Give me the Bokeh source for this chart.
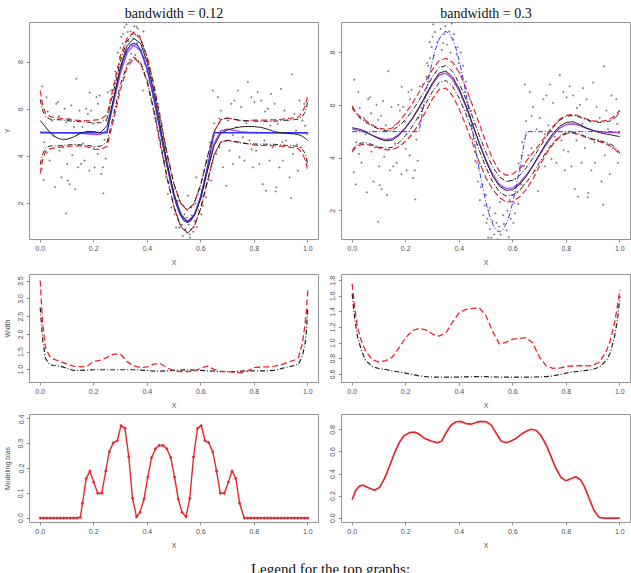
import numpy as np
from bokeh.plotting import figure
from bokeh.layouts import column, row
from bokeh.models import Range1d, FixedTicker
from bokeh.core.properties import value
from bokeh.embed import file_html
from bokeh.resources import INLINE

# ---------------------------------------------------------------- data
# common evaluation grid of the smoothed curves
GRID = [0.0, 0.005, 0.01, 0.02, 0.035,
        0.05, 0.075, 0.1, 0.125, 0.15, 0.175, 0.2, 0.225, 0.25, 0.275,
        0.3, 0.325, 0.35, 0.375, 0.4, 0.425, 0.45, 0.475, 0.5, 0.525,
        0.55, 0.575, 0.6, 0.625, 0.65, 0.675, 0.7, 0.725, 0.75, 0.775,
        0.8, 0.825, 0.85, 0.875, 0.9, 0.925, 0.95,
        0.965, 0.98, 0.99, 0.995, 1.0]

# true regression function
TRUE_X = [0.0, 0.25, 0.2625, 0.275, 0.2875, 0.3, 0.3125, 0.325, 0.3375, 0.35,
          0.3625, 0.375, 0.3875, 0.4, 0.4125, 0.425, 0.4375, 0.45, 0.4625, 0.475,
          0.4875, 0.5, 0.5125, 0.525, 0.5375, 0.55, 0.5625, 0.575, 0.5875, 0.6,
          0.6125, 0.625, 0.6375, 0.65, 1.0]
TRUE_Y = [5.0, 5.00, 5.74, 6.45, 7.11, 7.69, 8.16, 8.51, 8.73, 8.80,
          8.73, 8.51, 8.16, 7.69, 7.11, 6.45, 5.74, 5.00, 4.26, 3.55,
          2.89, 2.31, 1.84, 1.49, 1.27, 1.20, 1.27, 1.49, 1.84, 2.31,
          2.89, 3.55, 4.26, 5.00, 5.0]

# bandwidth = 0.12
MEAN_012 = [5.03, 5.03, 5.02, 5.02, 5.01,
            5.00, 5.00, 5.00, 4.99, 4.98, 4.96, 4.92, 4.93, 5.10, 6.30,
            7.55, 8.40, 8.72, 8.48, 7.68, 6.45, 5.00, 3.55, 2.33, 1.52,
            1.23, 1.50, 2.30, 3.45, 4.55, 5.08, 5.15, 5.10, 5.05, 5.02,
            5.01, 5.00, 5.00, 5.00, 5.00, 5.00, 5.00,
            5.00, 5.00, 5.00, 5.00, 5.00]
FIT_012 = [5.52, 5.45, 5.38, 5.24, 5.03,
           4.86, 4.73, 4.72, 4.82, 4.97, 5.06, 5.05, 5.00, 5.30, 6.45,
           7.80, 8.70, 9.00, 8.80, 7.98, 6.72, 5.20, 3.70, 2.42, 1.56,
           1.22, 1.45, 2.20, 3.38, 4.45, 4.98, 5.12, 5.20, 5.25, 5.27,
           5.26, 5.23, 5.15, 5.05, 5.00, 4.97, 4.95,
           4.92, 4.85, 4.77, 4.72, 4.68]
WIDTH_PW_012 = [2.76, 2.25, 1.80, 1.32, 1.15,
                1.12, 1.10, 1.04, 0.98, 0.98, 0.99, 1.00, 1.00, 1.00, 1.00,
                1.00, 1.00, 1.00, 0.99, 0.98, 0.96, 0.96, 0.97, 0.98, 0.99,
                1.00, 0.99, 0.98, 0.97, 0.96, 0.95, 0.95, 0.95, 0.96, 0.97,
                0.97, 0.97, 0.97, 0.98, 1.03, 1.08, 1.12,
                1.16, 1.40, 1.75, 2.10, 2.76]
WIDTH_SIM_012 = [3.52, 2.85, 2.25, 1.62, 1.38,
                 1.30, 1.23, 1.16, 1.10, 1.08, 1.10, 1.23, 1.27, 1.35, 1.44,
                 1.44, 1.23, 1.11, 1.06, 1.08, 1.16, 1.17, 1.05, 0.97, 0.95,
                 0.95, 0.96, 1.04, 1.10, 1.01, 0.95, 0.95, 0.93, 0.91, 0.97,
                 1.06, 1.08, 1.08, 1.10, 1.14, 1.21, 1.27,
                 1.34, 1.75, 2.30, 2.70, 3.24]

# bandwidth = 0.3
MEAN_03 = [5.10, 5.09, 5.08, 5.06, 5.02,
           4.97, 4.86, 4.76, 4.70, 4.73, 4.90, 5.17, 5.50, 5.90, 6.35,
           6.80, 7.15, 7.22, 7.00, 6.55, 5.95, 5.27, 4.57, 3.92, 3.38,
           3.00, 2.84, 2.87, 3.05, 3.34, 3.70, 4.11, 4.51, 4.86, 5.13,
           5.27, 5.30, 5.23, 5.13, 5.05, 5.00, 4.98,
           4.97, 4.97, 4.97, 4.97, 4.97]
FIT_03 = [5.15, 5.14, 5.13, 5.11, 5.07,
          5.00, 4.86, 4.73, 4.65, 4.68, 4.86, 5.15, 5.50, 5.92, 6.38,
          6.85, 7.22, 7.30, 7.08, 6.62, 6.00, 5.28, 4.55, 3.88, 3.32,
          2.93, 2.77, 2.80, 2.99, 3.30, 3.70, 4.14, 4.57, 4.93, 5.20,
          5.35, 5.38, 5.27, 5.14, 5.04, 4.96, 4.91,
          4.88, 4.85, 4.83, 4.82, 4.82]
WIDTH_PW_03 = [1.63, 1.45, 1.30, 1.08, 0.90,
               0.78, 0.70, 0.675, 0.662, 0.645, 0.63, 0.615, 0.597, 0.58, 0.57,
               0.566, 0.565, 0.565, 0.565, 0.566, 0.568, 0.57, 0.57, 0.57, 0.568,
               0.566, 0.565, 0.565, 0.565, 0.565, 0.566, 0.568, 0.572, 0.58, 0.598,
               0.615, 0.632, 0.642, 0.65, 0.665, 0.695, 0.78,
               0.88, 1.08, 1.27, 1.40, 1.60]
WIDTH_SIM_03 = [1.757, 1.60, 1.43, 1.20, 1.02,
                0.90, 0.79, 0.756, 0.775, 0.82, 0.94, 1.07, 1.16, 1.187, 1.17,
                1.115, 1.09, 1.13, 1.27, 1.39, 1.43, 1.445, 1.45, 1.35, 1.15,
                0.99, 1.01, 1.05, 1.06, 1.07, 1.00, 0.82, 0.71, 0.678, 0.68,
                0.70, 0.707, 0.712, 0.708, 0.715, 0.76, 0.90,
                1.04, 1.25, 1.45, 1.57, 1.68]

# modelling bias
BIAS_X_012 = [0.0, 0.0125, 0.025, 0.0375, 0.05, 0.0625, 0.075, 0.0875, 0.1, 0.1125,
              0.125, 0.1375, 0.15, 0.158, 0.172, 0.186, 0.2, 0.215, 0.23, 0.245,
              0.258, 0.273, 0.288, 0.302, 0.317, 0.331, 0.345, 0.36, 0.373, 0.388,
              0.402, 0.416, 0.431, 0.445, 0.459, 0.473, 0.488, 0.502, 0.516, 0.53,
              0.545, 0.559, 0.573, 0.588, 0.602, 0.616, 0.63, 0.645, 0.659, 0.673,
              0.688, 0.703, 0.717, 0.731, 0.745, 0.7625, 0.775, 0.7875, 0.8, 0.8125,
              0.825, 0.8375, 0.85, 0.8625, 0.875, 0.8875, 0.9, 0.9125, 0.925, 0.9375,
              0.95, 0.9625, 0.975, 0.9875, 1.0]
BIAS_Y_012 = [0.0, 0.0, 0.0, 0.0, 0.0, 0.0, 0.0, 0.0, 0.0, 0.0,
              0.0, 0.0, 0.003, 0.06, 0.16, 0.19, 0.145, 0.10, 0.10, 0.19,
              0.267, 0.304, 0.312, 0.373, 0.362, 0.247, 0.08, 0.005, 0.023, 0.077,
              0.165, 0.244, 0.28, 0.293, 0.293, 0.28, 0.244, 0.165, 0.077, 0.023,
              0.005, 0.08, 0.247, 0.362, 0.373, 0.312, 0.304, 0.267, 0.19, 0.10,
              0.10, 0.145, 0.19, 0.16, 0.06, 0.0, 0.0, 0.0, 0.0, 0.0,
              0.0, 0.0, 0.0, 0.0, 0.0, 0.0, 0.0, 0.0, 0.0, 0.0,
              0.0, 0.0, 0.0, 0.0, 0.0]
BIAS_X_03 = [0.0, 0.012, 0.027, 0.04, 0.058, 0.083, 0.102, 0.121, 0.139, 0.158,
             0.177, 0.195, 0.214, 0.233, 0.251, 0.27, 0.295, 0.32, 0.335, 0.351,
             0.369, 0.388, 0.407, 0.425, 0.444, 0.463, 0.481, 0.5, 0.519, 0.537,
             0.556, 0.575, 0.593, 0.612, 0.631, 0.649, 0.668, 0.687, 0.705, 0.724,
             0.743, 0.761, 0.78, 0.799, 0.817, 0.836, 0.854, 0.867, 0.886, 0.904,
             0.923, 0.942, 0.96, 0.98, 1.0]
BIAS_Y_03 = [0.166, 0.246, 0.29, 0.30, 0.277, 0.252, 0.277, 0.36, 0.468, 0.59,
             0.69, 0.75, 0.775, 0.78, 0.76, 0.723, 0.70, 0.683, 0.70, 0.775,
             0.843, 0.874, 0.877, 0.858, 0.852, 0.868, 0.877, 0.874, 0.846, 0.775,
             0.70, 0.683, 0.70, 0.723, 0.76, 0.785, 0.806, 0.797, 0.75, 0.668,
             0.56, 0.452, 0.37, 0.338, 0.357, 0.375, 0.345, 0.29, 0.175, 0.068,
             0.006, 0.0, 0.0, 0.0, 0.0]

# observations (x, y)
POINTS = [
    (0.006, 3.46), (0.008, 6.97), (0.013, 3.00), (0.015, 4.60), (0.023, 6.51),
    (0.025, 4.15), (0.028, 5.90), (0.035, 3.82), (0.044, 5.52), (0.050, 4.90),
    (0.055, 2.70), (0.060, 6.23), (0.066, 6.30), (0.070, 5.70), (0.072, 4.24),
    (0.079, 3.11), (0.085, 4.40), (0.091, 6.02), (0.097, 5.45), (0.097, 1.58),
    (0.101, 3.68), (0.103, 2.97), (0.108, 5.60), (0.110, 2.82), (0.116, 6.16),
    (0.120, 4.05), (0.126, 5.24), (0.130, 2.60), (0.135, 7.29), (0.141, 3.53),
    (0.147, 5.94), (0.153, 3.68), (0.158, 5.25), (0.160, 4.55), (0.166, 3.82),
    (0.172, 6.02), (0.178, 5.80), (0.184, 3.39), (0.185, 6.70), (0.190, 5.94),
    (0.197, 5.38), (0.200, 4.35), (0.203, 3.53), (0.210, 6.51), (0.215, 4.10),
    (0.216, 6.23), (0.222, 6.58), (0.228, 3.25), (0.234, 3.53), (0.236, 2.43),
    (0.240, 4.70), (0.245, 3.90), (0.247, 5.52), (0.253, 6.72),
    (0.260, 5.90), (0.265, 6.80), (0.272, 6.30), (0.278, 7.08), (0.280, 7.60),
    (0.284, 7.50), (0.285, 6.90), (0.290, 7.79), (0.290, 8.40), (0.295, 7.30),
    (0.297, 8.21), (0.300, 8.60), (0.303, 9.07), (0.305, 7.90), (0.309, 8.78),
    (0.310, 9.20), (0.315, 9.49), (0.318, 8.40), (0.322, 9.60), (0.327, 9.28),
    (0.330, 8.90), (0.335, 8.10), (0.338, 9.30), (0.340, 8.36), (0.343, 8.70),
    (0.348, 9.00), (0.352, 9.52), (0.355, 8.30), (0.360, 9.50), (0.362, 8.80),
    (0.365, 9.42), (0.368, 8.00), (0.372, 9.10), (0.377, 8.50), (0.380, 8.70),
    (0.384, 6.79), (0.386, 9.30), (0.390, 7.93), (0.393, 8.20), (0.398, 7.60),
    (0.402, 7.22), (0.405, 8.00), (0.410, 7.10), (0.415, 7.50), (0.421, 6.51),
    (0.425, 6.90), (0.427, 5.80), (0.430, 6.10), (0.435, 5.60), (0.440, 6.23),
    (0.445, 5.80), (0.446, 5.09), (0.450, 4.70), (0.455, 5.30), (0.458, 4.24),
    (0.460, 3.90), (0.465, 3.82), (0.468, 4.50), (0.470, 3.11), (0.473, 3.60),
    (0.477, 2.40), (0.480, 2.90), (0.483, 3.68), (0.486, 3.00), (0.490, 1.83),
    (0.495, 2.20), (0.500, 2.60), (0.502, 1.54), (0.505, 1.70), (0.508, 0.98),
    (0.510, 2.00), (0.514, 2.11), (0.515, 1.30), (0.520, 0.98), (0.525, 1.60),
    (0.530, 1.10), (0.533, 0.62), (0.535, 1.90), (0.539, 1.54), (0.543, 0.90),
    (0.548, 1.40), (0.552, 2.33), (0.555, 1.10), (0.558, 0.69), (0.560, 0.55),
    (0.564, 1.83), (0.567, 1.50), (0.572, 0.80), (0.577, 1.26), (0.580, 2.00),
    (0.583, 3.11), (0.585, 1.00), (0.589, 2.40), (0.592, 1.70), (0.597, 2.60),
    (0.602, 1.54), (0.605, 2.30), (0.608, 1.90), (0.610, 3.20), (0.614, 2.97),
    (0.617, 2.70), (0.620, 2.26), (0.622, 3.80), (0.627, 3.53), (0.630, 3.00),
    (0.633, 4.10), (0.635, 4.60), (0.639, 2.97), (0.642, 3.70), (0.645, 6.79),
    (0.649, 4.88), (0.650, 5.40),
    (0.658, 4.10), (0.664, 6.51), (0.670, 4.38), (0.670, 5.60), (0.676, 5.94),
    (0.683, 3.53), (0.689, 5.09), (0.695, 2.75), (0.701, 5.52), (0.707, 4.24),
    (0.714, 6.23), (0.720, 3.68), (0.720, 4.90), (0.726, 6.37), (0.733, 5.24),
    (0.739, 6.79), (0.745, 3.96), (0.751, 6.09), (0.757, 4.81), (0.763, 3.82),
    (0.770, 5.40), (0.776, 7.15), (0.782, 4.67), (0.789, 6.51), (0.790, 4.30),
    (0.795, 3.53), (0.801, 6.30), (0.807, 4.24), (0.810, 5.00), (0.813, 6.72),
    (0.819, 3.68), (0.826, 6.37), (0.832, 2.82), (0.838, 4.67), (0.840, 5.90),
    (0.844, 2.54), (0.851, 6.02), (0.857, 3.82), (0.860, 5.30), (0.863, 6.65),
    (0.869, 4.38), (0.876, 6.23), (0.880, 2.51), (0.882, 2.68), (0.888, 5.38),
    (0.894, 3.53), (0.900, 6.86), (0.905, 4.60), (0.907, 3.82), (0.913, 5.94),
    (0.919, 4.67), (0.925, 5.52), (0.932, 3.11), (0.938, 2.23), (0.941, 7.48),
    (0.944, 4.10), (0.950, 5.80), (0.956, 5.09), (0.960, 4.50), (0.963, 3.39),
    (0.969, 6.37), (0.975, 4.38), (0.980, 5.52), (0.987, 6.23), (0.990, 5.30),
    (0.993, 3.82), (0.998, 4.95),
]

X_TICKS = [0.0, 0.2, 0.4, 0.6, 0.8, 1.0]

# ---------------------------------------------------------------- styling
FRAME = "#959595"
TXT = "#505050"
SANS = "Liberation Sans"
SERIF = "Liberation Serif"
RED = "#e8262c"
BLUE = "#3535f0"
PURPLE = "#b048f0"
DARK = "#222222"

FW = 289  # frame width of every panel


def panel(fh, yr, yticks, ylabels, bl, br, bt, bb, ylab=None, title=None):
    p = figure(frame_width=FW, frame_height=fh,
               x_range=Range1d(-0.04, 1.04), y_range=Range1d(*yr),
               min_border_left=bl, min_border_right=br,
               min_border_top=bt, min_border_bottom=bb,
               output_backend="svg", toolbar_location=None)
    p.xgrid.visible = False
    p.ygrid.visible = False
    p.outline_line_color = FRAME
    p.outline_line_width = 1
    p.xaxis.ticker = FixedTicker(ticks=X_TICKS)
    p.xaxis.major_label_overrides = {t: f"{t:.1f}" for t in X_TICKS}
    p.yaxis.ticker = FixedTicker(ticks=yticks)
    p.yaxis.major_label_overrides = dict(zip(yticks, ylabels))
    p.yaxis.major_label_orientation = "vertical"
    p.xaxis.axis_label = "X"
    if ylab:
        p.yaxis.axis_label = ylab
    for ax in (p.xaxis[0], p.yaxis[0]):
        ax.axis_line_color = None
        ax.major_tick_out = 3
        ax.major_tick_in = 0
        ax.major_tick_line_color = FRAME
        ax.minor_tick_line_color = None
        ax.major_label_text_font = SANS
        ax.major_label_text_font_size = "7px"
        ax.major_label_text_color = TXT
        ax.major_label_standoff = 3
        ax.axis_label_text_font = SANS
        ax.axis_label_text_font_size = "7px"
        ax.axis_label_text_font_style = "normal"
        ax.axis_label_text_color = TXT
        ax.axis_label_standoff = 5
    if title:
        p.title.text = title
        p.title.align = "center"
        p.title.text_font = SERIF
        p.title.text_font_size = "14px"
        p.title.text_font_style = "normal"
        p.title.text_color = "#111111"
        p.title.standoff = 4
    return p


def top_panel(yr, mean, fit, w_pw, w_sim, true_dash, bl, br, title, ylab=None):
    p = panel(217, yr, [2, 4, 6, 8], ["2", "4", "6", "8"], bl, br, 22, 35,
              ylab=ylab, title=title)
    px = [q[0] for q in POINTS]
    py = [q[1] for q in POINTS]
    p.scatter(px, py, size=1.3, color="#6a6a6a", alpha=0.7)
    g = np.array(GRID)
    m = np.array(mean)
    hs = np.array(w_sim) / 2
    hp = np.array(w_pw) / 2
    for s in (1, -1):
        p.line(g, m + s * hs, line_color=RED, line_width=1.2, line_dash="6 3")
        p.line(g, m + s * hp, line_color=DARK, line_width=1.0, line_dash="5 2 1 2")
    p.line(GRID, mean, line_color=PURPLE, line_width=1.4)
    if true_dash:
        p.line(TRUE_X, TRUE_Y, line_color=BLUE, line_width=1.0, line_dash="5 2 1 2")
    else:
        p.line(TRUE_X, TRUE_Y, line_color=BLUE, line_width=1.3)
    p.line(GRID, fit, line_color=DARK, line_width=1.0)
    return p


# ---------------------------------------------------------------- top row
tl = top_panel((0.47, 9.68), MEAN_012, FIT_012, WIDTH_PW_012, WIDTH_SIM_012,
               False, 27, 6, "bandwidth = 0.12", ylab="Y")
tr = top_panel((0.91, 9.14), MEAN_03, FIT_03, WIDTH_PW_03, WIDTH_SIM_03,
               True, 17, 3, "bandwidth = 0.3")

# ---------------------------------------------------------------- widths
ml = panel(108, (0.64, 3.69), [1.0, 1.5, 2.0, 2.5, 3.0, 3.5],
           ["1.0", "1.5", "2.0", "2.5", "3.0", "3.5"], 27, 6, 0, 32, ylab="Width")
ml.line(GRID, WIDTH_PW_012, line_color=DARK, line_width=1.2, line_dash="5 2 1 2")
ml.line(GRID, WIDTH_SIM_012, line_color=RED, line_width=1.3, line_dash="6 3")

mr = panel(108, (0.496, 1.878), [0.6, 0.8, 1.0, 1.2, 1.4, 1.6, 1.8],
           ["0.6", "0.8", "1.0", "1.2", "1.4", "1.6", "1.8"], 17, 3, 0, 32)
mr.line(GRID, WIDTH_PW_03, line_color=DARK, line_width=1.2, line_dash="5 2 1 2")
mr.line(GRID, WIDTH_SIM_03, line_color=RED, line_width=1.3, line_dash="6 3")

# ---------------------------------------------------------------- bias
bl_ = panel(108, (-0.018, 0.418), [0.0, 0.1, 0.2, 0.3, 0.4],
            ["0.0", "0.1", "0.2", "0.3", "0.4"], 27, 6, 0, 35, ylab="Modeling bias")
bl_.line(BIAS_X_012, BIAS_Y_012, line_color=RED, line_width=1.4)
bl_.scatter(BIAS_X_012, BIAS_Y_012, size=2.0, color=RED)

br_ = panel(108, (-0.04, 0.94), [0.0, 0.2, 0.4, 0.6, 0.8],
            ["0.0", "0.2", "0.4", "0.6", "0.8"], 17, 3, 0, 35)
br_.line(BIAS_X_03, BIAS_Y_03, line_color=RED, line_width=1.7)

# ---------------------------------------------------------------- caption strip
cap = figure(width=631, height=16, x_range=Range1d(0, 631), y_range=Range1d(0, 16),
             x_axis_location=None, y_axis_location=None, min_border=0,
             output_backend="svg", toolbar_location=None)
cap.grid.visible = False
cap.outline_line_color = None
cap.text(x=[330], y=[4.5], text=["Legend for the top graphs:"],
         text_align="center", text_baseline="alphabetic",
         text_font=value(SERIF), text_font_size="15px", text_color="#111111")

layout = column(row(tl, tr), row(ml, mr), row(bl_, br_), cap)

with open("out.html", "w") as f:
    f.write(file_html(layout, INLINE))
